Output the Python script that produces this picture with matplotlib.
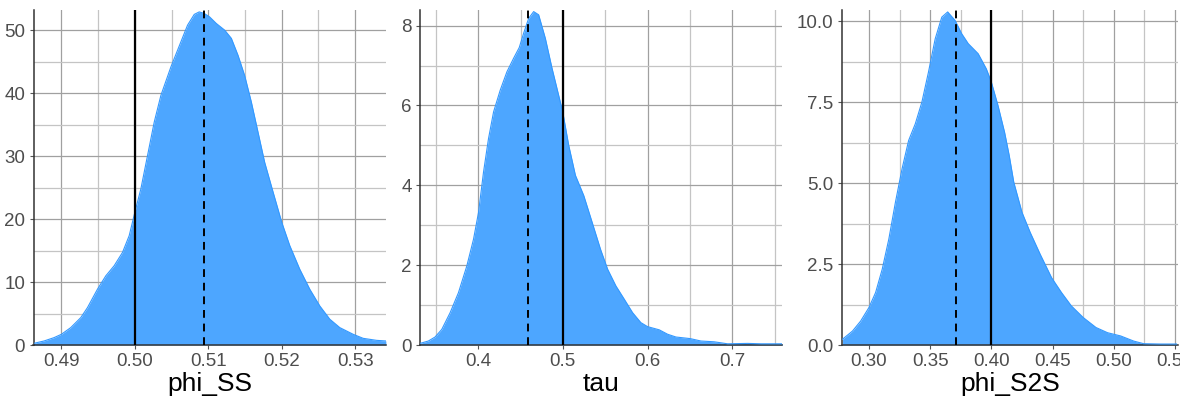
import matplotlib
matplotlib.use("Agg")
import matplotlib.pyplot as plt
from matplotlib.ticker import MultipleLocator, FormatStrFormatter
from matplotlib.transforms import Bbox, TransformedBbox

plt.rcParams['font.family'] = ['Liberation Sans', 'DejaVu Sans']

# ---- data ----
names = ["phi_SS", "tau", "phi_S2S"]

phi_ss_x = [0.48627, 0.48764, 0.4890, 0.4900, 0.49127, 0.49264, 0.49355, 0.49491, 0.49605,
            0.49718, 0.49832, 0.49923, 0.5000, 0.50082, 0.50173, 0.50264, 0.50355, 0.50491,
            0.50627, 0.50718, 0.50809, 0.50877, 0.50945, 0.51018, 0.51109, 0.51223, 0.51314,
            0.51405, 0.51495, 0.51586, 0.51677, 0.51768, 0.51882, 0.5200, 0.52109, 0.52245,
            0.52382, 0.52518, 0.52655, 0.52791, 0.52973, 0.53109, 0.53291, 0.53418]
phi_ss_y = [0.27, 0.64, 1.17, 1.70, 2.76, 4.35, 5.94, 8.86, 10.99,
            12.58, 14.70, 17.36, 21.07, 24.79, 30.1, 35.4, 39.65, 44.16,
            48.14, 50.8, 52.5, 52.9, 52.65, 52.1, 51.06, 50.0, 48.7,
            46.0, 42.8, 38.6, 33.8, 29.0, 24.3, 19.5, 15.8, 12.05,
            8.86, 6.21, 4.09, 2.76, 1.70, 1.06, 0.74, 0.64]

tau_x = [0.33133, 0.3412, 0.3491, 0.357, 0.3669, 0.3767, 0.3866, 0.3945, 0.4004, 0.4063,
         0.4122, 0.4182, 0.426, 0.4339, 0.4418, 0.4485, 0.4537, 0.4596, 0.4655, 0.4714,
         0.4793, 0.4872, 0.4931, 0.4998, 0.5069, 0.5148, 0.5247, 0.5346, 0.5444, 0.5528,
         0.5626, 0.5724, 0.5823, 0.5921, 0.600, 0.6138, 0.6236, 0.6335, 0.6504, 0.663,
         0.6787, 0.6945, 0.7181, 0.7339, 0.7598]
tau_y = [0.04, 0.10, 0.20, 0.39, 0.81, 1.31, 1.98, 2.65, 3.32, 4.33,
         5.17, 5.84, 6.38, 6.84, 7.18, 7.45, 7.81, 8.18, 8.35, 8.27,
         7.68, 6.93, 6.42, 5.84, 5.0, 4.25, 3.74, 3.07, 2.40, 1.90,
         1.48, 1.15, 0.81, 0.56, 0.46, 0.38, 0.27, 0.20, 0.16, 0.10,
         0.08, 0.03, 0.04, 0.03, 0.03]

phi_s2s_x = [0.2784, 0.2865, 0.2932, 0.300, 0.3054, 0.3108, 0.3162, 0.3216, 0.327, 0.3324,
             0.3378, 0.3432, 0.3486, 0.3541, 0.3595, 0.3643, 0.3703, 0.3757, 0.3811, 0.3892,
             0.3959, 0.400, 0.4054, 0.4108, 0.4146, 0.4183, 0.425, 0.4317, 0.4398, 0.4492,
             0.4573, 0.4653, 0.475, 0.4855, 0.4949, 0.5056, 0.5164, 0.5245, 0.5379, 0.5513]
phi_s2s_y = [0.18, 0.43, 0.74, 1.16, 1.62, 2.34, 3.27, 4.41, 5.44, 6.32,
             6.83, 7.50, 8.43, 9.46, 10.13, 10.29, 10.03, 9.62, 9.31, 9.0,
             8.53, 8.12, 7.40, 6.57, 5.85, 5.03, 4.10, 3.48, 2.81, 2.08,
             1.62, 1.21, 0.85, 0.54, 0.38, 0.28, 0.12, 0.04, 0.03, 0.03]

true_vals = [0.50, 0.50, 0.40]          # solid lines
est_vals = [0.5094, 0.4588, 0.3707]     # dashed lines

xs = [phi_ss_x, tau_x, phi_s2s_x]
ys = [phi_ss_y, tau_y, phi_s2s_y]
xlims = [(0.4862, 0.5342), (0.3313, 0.7584), (0.2777, 0.5525)]
ylims = [(0, 53.2), (0, 8.39), (0, 10.35)]
xmajor = [0.01, 0.1, 0.05]
ymajor = [10, 2, 2.5]
xfmt = ["%.2f", "%.1f", "%.2f"]
yfmt = ["%d", "%d", "%.1f"]

# ---- layout ----
W, H = 1190, 401
fig = plt.figure(figsize=(W / 100, H / 100), dpi=100)
boxes = [(33.5, 386), (420, 781.7), (841.7, 1178)]
top_px, bot_px = 10, 345
clip = TransformedBbox(Bbox([[0, 0], [1180 / W, 1]]), fig.transFigure)

for i in range(3):
    l, r = boxes[i]
    ax = fig.add_axes([l / W, 1 - bot_px / H, (r - l) / W, (bot_px - top_px) / H])
    ax.set_xlim(*xlims[i])
    ax.set_ylim(*ylims[i])
    ax.xaxis.set_major_locator(MultipleLocator(xmajor[i]))
    ax.xaxis.set_minor_locator(MultipleLocator(xmajor[i] / 2))
    ax.yaxis.set_major_locator(MultipleLocator(ymajor[i]))
    ax.yaxis.set_minor_locator(MultipleLocator(ymajor[i] / 2))
    ax.xaxis.set_major_formatter(FormatStrFormatter(xfmt[i]))
    ax.yaxis.set_major_formatter(FormatStrFormatter(yfmt[i]))
    ax.grid(which='major', color='#a0a0a0', lw=0.9)
    ax.grid(which='minor', color='#c4c4c4', lw=0.9)
    ax.set_axisbelow(True)
    ax.fill_between(xs[i], ys[i], 0, color='#4da6ff', lw=0, zorder=2)
    ax.plot(xs[i], ys[i], color='#3399ff', lw=0.8, zorder=3)
    ax.axvline(true_vals[i], color='black', lw=1.6, zorder=4)
    ax.axvline(est_vals[i], color='black', lw=1.4, ls=(0, (4, 3)), zorder=4)
    for s in ['top', 'right']:
        ax.spines[s].set_visible(False)
    for s in ['left', 'bottom']:
        ax.spines[s].set_color('#333333')
        ax.spines[s].set_linewidth(1.1)
    ax.tick_params(which='major', length=3, color='#555555', labelsize=13.5,
                   labelcolor='#4d4d4d', pad=3)
    ax.tick_params(which='minor', length=0)
    ax.set_xlabel(names[i], fontsize=19, color='black', labelpad=1)
    for lab in ax.get_xticklabels():
        lab.set_clip_box(clip)
        lab.set_clip_on(True)

fig.savefig("out.png", dpi=100)
